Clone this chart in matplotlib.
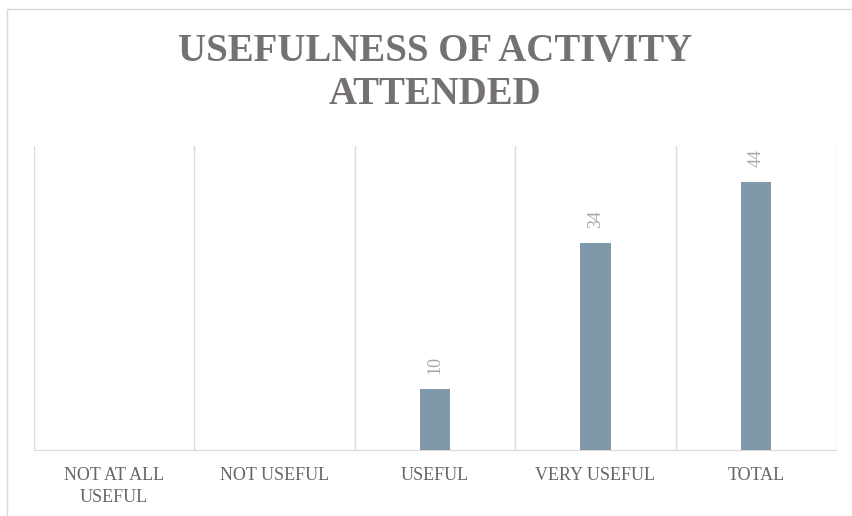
import numpy as np
import matplotlib
matplotlib.use("Agg")
import matplotlib.pyplot as plt
from matplotlib.patches import Rectangle

categories = ["NOT AT ALL\nUSEFUL", "NOT USEFUL", "USEFUL", "VERY USEFUL", "TOTAL"]
values = [0, 0, 10, 34, 44]
value_labels = ["", "", "10", "34", "44"]
title = "USEFULNESS OF ACTIVITY\nATTENDED"

bar_color = "#7f99ab"
grid_color = "#d9d9d9"

fig = plt.figure(figsize=(8.52, 5.16), dpi=100)
ax = fig.add_axes([34 / 852, 66 / 516, 802 / 852, 304 / 516])

# chart border (only top/left visible in the crop)
fig.patches.append(Rectangle((6.5 / 852, -0.1), 1.2, (516 - 9) / 516 + 0.1,
                             transform=fig.transFigure, fill=False,
                             edgecolor=grid_color, linewidth=1))

x = np.arange(len(categories))
ax.bar(x, values, width=0.19, color=bar_color, zorder=3)

for xi, v, lab in zip(x, values, value_labels):
    if lab:
        ax.annotate(lab, (xi, v), xytext=(0, 11), textcoords="offset points",
                    rotation=90, ha="center", va="bottom", color="#a6a6a6",
                    fontsize=13, family="Liberation Serif")

ax.set_xlim(-0.5, len(categories) - 0.5)
ax.set_ylim(0, 50)
for b in np.arange(-0.5, len(categories), 1.0):
    ax.axvline(b, color=grid_color, linewidth=1, zorder=1)

for s in ["top", "right", "left"]:
    ax.spines[s].set_visible(False)
ax.spines["bottom"].set_color(grid_color)
ax.set_yticks([])
ax.set_xticks(x)
ax.set_xticklabels(categories, family="Liberation Serif", fontsize=13,
                   color="#666666", linespacing=1.4)
ax.tick_params(axis="x", length=0, pad=12)

# title centred over the plot area
fig.text(435 / 852, 1 - 73 / 516, title, ha="center", va="center", fontsize=28,
         fontweight="bold", color="#767171", family="Liberation Serif",
         linespacing=1.22)

fig.savefig("out.png", dpi=100)
